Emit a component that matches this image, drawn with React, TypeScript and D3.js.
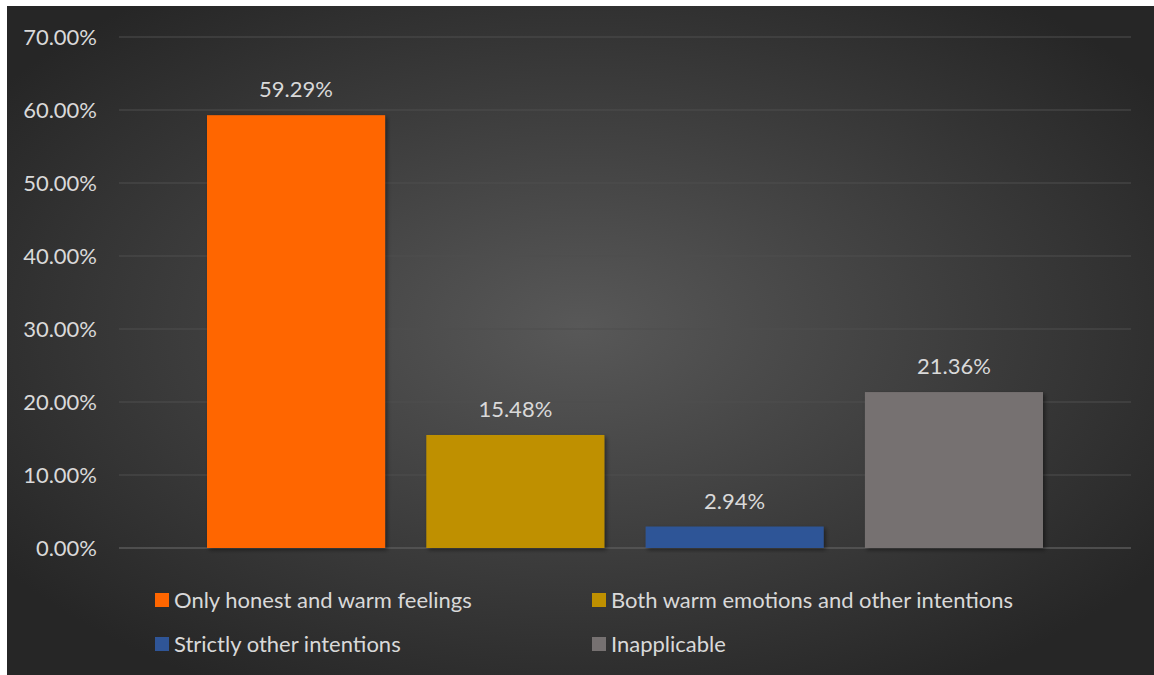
import React, { useEffect } from "react";
import * as d3 from "d3";

const seriesNames = [
  "Only honest and warm feelings",
  "Both warm emotions and other intentions",
  "Strictly other intentions",
  "Inapplicable",
];
const seriesValues = [59.29, 15.48, 2.94, 21.36];
const seriesColors = ["#FF6600", "#BF9000", "#2F5597", "#767171"];
const yTicks = [0, 10, 20, 30, 40, 50, 60, 70];

const W = 1154;
const H = 675;
const bg = { x: 7, y: 6 };
const plot = { left: 119, right: 1131, top: 37, bottom: 548 };
const font = "Lato, 'Open Sans', sans-serif";
const fs = 22;
const txt = "#d9d9d9";

export default function App() {
  useEffect(() => {
    document.body.style.margin = "0";
  }, []);

  const y = d3.scaleLinear().domain([0, 70]).range([plot.bottom, plot.top]);
  const catPad = 88;
  const x = d3
    .scaleBand<string>()
    .domain(seriesNames)
    .range([plot.left + catPad, plot.right - catPad])
    .paddingInner(0.188)
    .paddingOuter(0);

  const legendRows = [
    { y: 600, items: [0, 1] },
    { y: 644, items: [2, 3] },
  ];
  const legendCols = [155, 592];

  return (
    <svg width={W} height={H} style={{ display: "block" }}>
      <defs>
        <radialGradient id="bgGrad" cx="50%" cy="48%" r="62%" fx="50%" fy="48%">
          <stop offset="0%" stopColor="#585858" />
          <stop offset="100%" stopColor="#262626" />
        </radialGradient>
        <filter id="shadow" x="-10%" y="-10%" width="130%" height="130%">
          <feDropShadow dx="2" dy="2" stdDeviation="2" floodColor="#000" floodOpacity="0.45" />
        </filter>
      </defs>
      <rect x={0} y={0} width={W} height={H} fill="#ffffff" />
      <rect x={bg.x} y={bg.y} width={W - bg.x} height={H - bg.y} fill="url(#bgGrad)" />
      {yTicks.map((t) => (
        <g key={t}>
          <line
            x1={plot.left}
            x2={plot.right}
            y1={y(t)}
            y2={y(t)}
            stroke={t === 0 ? "#5a5a5a" : "#4f4f4f"}
            strokeWidth={t === 0 ? 1.5 : 1}
          />
          <text
            x={97}
            y={y(t)}
            dy="0.35em"
            textAnchor="end"
            fill={txt}
            fontFamily={font}
            fontSize={fs}
          >
            {t.toFixed(2)}%
          </text>
        </g>
      ))}
      {seriesNames.map((s, i) => (
        <g key={s}>
          <rect
            x={x(s)}
            y={y(seriesValues[i])}
            width={x.bandwidth()}
            height={y(0) - y(seriesValues[i])}
            fill={seriesColors[i]}
            filter="url(#shadow)"
          />
          <text
            x={(x(s) as number) + x.bandwidth() / 2}
            y={y(seriesValues[i]) - 18}
            textAnchor="middle"
            fill={txt}
            fontFamily={font}
            fontSize={fs}
          >
            {seriesValues[i].toFixed(2)}%
          </text>
        </g>
      ))}
      {legendRows.map((row) =>
        row.items.map((idx, c) => (
          <g key={idx}>
            <rect x={legendCols[c]} y={row.y - 7} width={14} height={14} fill={seriesColors[idx]} />
            <text
              x={legendCols[c] + 19}
              y={row.y}
              dy="0.35em"
              fill={txt}
              fontFamily={font}
              fontSize={fs}
            >
              {seriesNames[idx]}
            </text>
          </g>
        ))
      )}
    </svg>
  );
}
